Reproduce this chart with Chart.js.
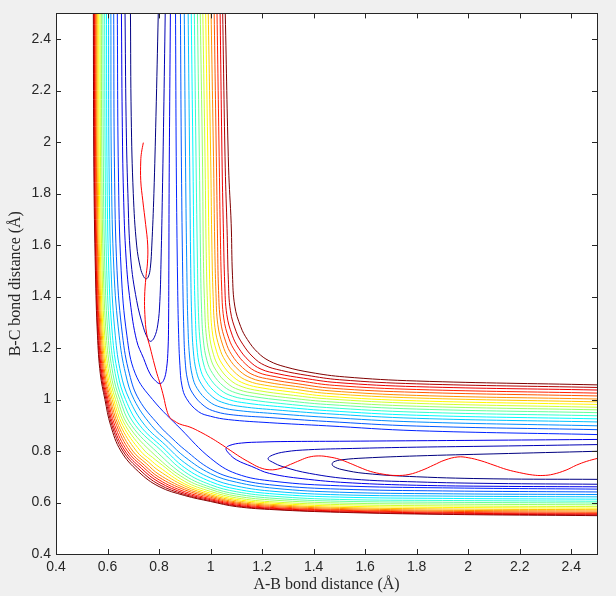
<!DOCTYPE html>
<html>
<head>
<meta charset="utf-8">
<title>A-B / B-C potential energy surface</title>
<script src="https://cdn.jsdelivr.net/npm/chart.js@4.4.1/dist/chart.umd.min.js"></script>
<style>
  html, body { margin: 0; padding: 0; background: #f0f0f0; }
  #wrap { width: 616px; height: 596px; }
</style>
</head>
<body>
<div id="wrap"><canvas id="pes" width="616" height="596"></canvas></div>
<script>
// axis ticks (same on both axes)
const tickValues = [0.4, 0.6, 0.8, 1.0, 1.2, 1.4, 1.6, 1.8, 2.0, 2.2, 2.4];
const tickLabels = ['0.4', '0.6', '0.8', '1', '1.2', '1.4', '1.6', '1.8', '2', '2.2', '2.4'];

// lowest three levels: loops in the entry valley (x = A-B, y = B-C)
const entryLoops = [
  [[0.689, 2.5], [0.692, 2.1], [0.700, 1.8], [0.713, 1.6], [0.728, 1.51], [0.740, 1.478], [0.749, 1.469],
   [0.758, 1.476], [0.766, 1.51], [0.772, 1.6], [0.780, 1.8], [0.788, 2.1], [0.797, 2.5]],
  [[0.668, 2.5], [0.672, 2.1], [0.679, 1.8], [0.690, 1.55], [0.713, 1.385], [0.739, 1.281], [0.755, 1.24],
   [0.766, 1.226], [0.781, 1.24], [0.795, 1.29], [0.803, 1.38], [0.808, 1.55], [0.813, 1.8], [0.818, 2.1], [0.824, 2.5]],
  [[0.654, 2.5], [0.657, 2.1], [0.662, 1.8], [0.672, 1.55], [0.688, 1.38], [0.713, 1.229], [0.740, 1.16],
   [0.765, 1.10], [0.789, 1.07], [0.804, 1.062], [0.818, 1.075], [0.829, 1.12], [0.835, 1.2], [0.837, 1.3],
   [0.838, 1.5], [0.839, 1.8], [0.841, 2.1], [0.844, 2.5]]
];

// the same three levels in the exit valley
const exitLoops = [
  [[2.5, 0.690], [2.1, 0.692], [1.8, 0.700], [1.6, 0.713], [1.51, 0.728], [1.478, 0.740], [1.472, 0.749],
   [1.478, 0.758], [1.51, 0.766], [1.6, 0.773], [1.8, 0.781], [2.1, 0.789], [2.5, 0.799]],
  [[2.5, 0.671], [2.1, 0.674], [1.8, 0.680], [1.55, 0.691], [1.385, 0.713], [1.281, 0.739], [1.24, 0.757],
   [1.223, 0.770], [1.24, 0.784], [1.29, 0.797], [1.38, 0.805], [1.55, 0.810], [1.8, 0.815], [2.1, 0.819], [2.5, 0.825]],
  [[2.5, 0.661], [2.1, 0.663], [1.8, 0.667], [1.55, 0.676], [1.38, 0.690], [1.229, 0.713], [1.16, 0.740],
   [1.10, 0.766], [1.07, 0.792], [1.06, 0.810], [1.075, 0.822], [1.12, 0.831], [1.2, 0.835], [1.3, 0.837],
   [1.5, 0.838], [1.8, 0.840], [2.1, 0.842], [2.5, 0.845]]
];

// levels 4..20, repulsive-wall branch: top edge down to the diagonal
const innerUpper = [
  [[0.638, 2.5], [0.642, 1.9], [0.653, 1.5], [0.675, 1.25], [0.708, 1.1], [0.775, 1.0], [0.885, 0.885]],
  [[0.624, 2.5], [0.627, 1.9], [0.637, 1.5], [0.658, 1.25], [0.685, 1.1], [0.722, 1.0], [0.800, 0.9], [0.850, 0.850]],
  [[0.613, 2.5], [0.615, 1.9], [0.625, 1.5], [0.645, 1.25], [0.670, 1.1], [0.703, 1.0], [0.770, 0.9], [0.836, 0.836]],
  [[0.604, 2.5], [0.606, 1.9], [0.614, 1.5], [0.630, 1.25], [0.652, 1.1], [0.685, 1.0], [0.745, 0.9], [0.824, 0.824]],
  [[0.596, 2.5], [0.598, 1.9], [0.605, 1.5], [0.619, 1.25], [0.640, 1.1], [0.670, 1.0], [0.725, 0.9], [0.814, 0.814]],
  [[0.589, 2.5], [0.591, 1.9], [0.597, 1.5], [0.610, 1.25], [0.630, 1.1], [0.658, 1.0], [0.708, 0.9], [0.805, 0.805]],
  [[0.582, 2.5], [0.584, 1.9], [0.590, 1.5], [0.602, 1.25], [0.621, 1.1], [0.648, 1.0], [0.693, 0.9], [0.794, 0.794]],
  [[0.576, 2.5], [0.578, 1.9], [0.584, 1.5], [0.595, 1.25], [0.613, 1.1], [0.639, 1.0], [0.680, 0.9], [0.784, 0.784]],
  [[0.571, 2.5], [0.573, 1.9], [0.579, 1.5], [0.589, 1.25], [0.606, 1.1], [0.631, 1.0], [0.669, 0.9], [0.745, 0.8], [0.775, 0.775]],
  [[0.566, 2.5], [0.568, 1.9], [0.574, 1.5], [0.584, 1.25], [0.600, 1.1], [0.624, 1.0], [0.659, 0.9], [0.728, 0.8], [0.766, 0.766]],
  [[0.562, 2.5], [0.564, 1.9], [0.570, 1.5], [0.580, 1.25], [0.595, 1.1], [0.618, 1.0], [0.650, 0.9], [0.712, 0.8], [0.758, 0.758]],
  [[0.558, 2.5], [0.560, 1.9], [0.566, 1.5], [0.576, 1.25], [0.590, 1.1], [0.612, 1.0], [0.642, 0.9], [0.698, 0.8], [0.751, 0.751]],
  [[0.555, 2.5], [0.557, 1.9], [0.563, 1.5], [0.572, 1.25], [0.586, 1.1], [0.607, 1.0], [0.635, 0.9], [0.687, 0.8], [0.744, 0.744]],
  [[0.552, 2.5], [0.554, 1.9], [0.560, 1.5], [0.569, 1.25], [0.582, 1.1], [0.602, 1.0], [0.628, 0.9], [0.677, 0.8], [0.738, 0.738]],
  [[0.549, 2.5], [0.551, 1.9], [0.557, 1.5], [0.566, 1.25], [0.578, 1.1], [0.598, 1.0], [0.622, 0.9], [0.668, 0.8], [0.732, 0.732]],
  [[0.547, 2.5], [0.549, 1.9], [0.555, 1.5], [0.563, 1.25], [0.575, 1.1], [0.594, 1.0], [0.617, 0.9], [0.660, 0.8], [0.726, 0.726]],
  [[0.545, 2.5], [0.547, 1.9], [0.553, 1.5], [0.561, 1.25], [0.572, 1.1], [0.590, 1.0], [0.612, 0.9], [0.652, 0.8], [0.720, 0.720]]
];

// levels 4..20, repulsive-wall branch: diagonal out to the right edge
const innerLower = [
  [[0.885, 0.885], [1.0, 0.772], [1.1, 0.712], [1.25, 0.682], [1.5, 0.665], [1.9, 0.657], [2.5, 0.652]],
  [[0.850, 0.850], [0.9, 0.805], [1.0, 0.730], [1.1, 0.692], [1.25, 0.667], [1.5, 0.652], [1.9, 0.645], [2.5, 0.641]],
  [[0.836, 0.836], [0.9, 0.777], [1.0, 0.712], [1.1, 0.679], [1.25, 0.655], [1.5, 0.640], [1.9, 0.634], [2.5, 0.631]],
  [[0.824, 0.824], [0.9, 0.754], [1.0, 0.695], [1.1, 0.664], [1.25, 0.643], [1.5, 0.630], [1.9, 0.625], [2.5, 0.622]],
  [[0.814, 0.814], [0.9, 0.735], [1.0, 0.681], [1.1, 0.652], [1.25, 0.633], [1.5, 0.621], [1.9, 0.616], [2.5, 0.613]],
  [[0.805, 0.805], [0.9, 0.719], [1.0, 0.669], [1.1, 0.642], [1.25, 0.624], [1.5, 0.612], [1.9, 0.608], [2.5, 0.605]],
  [[0.794, 0.794], [0.9, 0.705], [1.0, 0.659], [1.1, 0.633], [1.25, 0.616], [1.5, 0.605], [1.9, 0.601], [2.5, 0.598]],
  [[0.784, 0.784], [0.9, 0.693], [1.0, 0.651], [1.1, 0.625], [1.25, 0.609], [1.5, 0.598], [1.9, 0.594], [2.5, 0.591]],
  [[0.775, 0.775], [0.8, 0.755], [0.9, 0.682], [1.0, 0.643], [1.1, 0.618], [1.25, 0.602], [1.5, 0.592], [1.9, 0.587], [2.5, 0.584]],
  [[0.766, 0.766], [0.8, 0.738], [0.9, 0.672], [1.0, 0.636], [1.1, 0.612], [1.25, 0.597], [1.5, 0.586], [1.9, 0.581], [2.5, 0.578]],
  [[0.758, 0.758], [0.8, 0.723], [0.9, 0.664], [1.0, 0.630], [1.1, 0.607], [1.25, 0.592], [1.5, 0.581], [1.9, 0.575], [2.5, 0.572]],
  [[0.751, 0.751], [0.8, 0.709], [0.9, 0.656], [1.0, 0.625], [1.1, 0.602], [1.25, 0.588], [1.5, 0.577], [1.9, 0.570], [2.5, 0.567]],
  [[0.744, 0.744], [0.8, 0.698], [0.9, 0.649], [1.0, 0.620], [1.1, 0.598], [1.25, 0.584], [1.5, 0.573], [1.9, 0.566], [2.5, 0.562]],
  [[0.738, 0.738], [0.8, 0.688], [0.9, 0.642], [1.0, 0.615], [1.1, 0.594], [1.25, 0.580], [1.5, 0.570], [1.9, 0.562], [2.5, 0.558]],
  [[0.732, 0.732], [0.8, 0.679], [0.9, 0.636], [1.0, 0.611], [1.1, 0.590], [1.25, 0.577], [1.5, 0.567], [1.9, 0.559], [2.5, 0.555]],
  [[0.726, 0.726], [0.8, 0.670], [0.9, 0.631], [1.0, 0.607], [1.1, 0.587], [1.25, 0.574], [1.5, 0.564], [1.9, 0.556], [2.5, 0.552]],
  [[0.720, 0.720], [0.8, 0.662], [0.9, 0.627], [1.0, 0.604], [1.1, 0.584], [1.25, 0.572], [1.5, 0.562], [1.9, 0.554], [2.5, 0.549]]
];

// levels 4..20, far branch round the corner: top edge down to the diagonal
const outerUpper = [
  [[0.864, 2.5], [0.867, 1.9], [0.872, 1.453], [0.876, 1.253], [0.881, 1.133], [0.889, 1.053], [0.907, 1.003], [0.953, 0.953]],
  [[0.883, 2.5], [0.887, 1.9], [0.892, 1.475], [0.896, 1.275], [0.901, 1.155], [0.911, 1.075], [0.930, 1.025], [0.975, 0.975]],
  [[0.898, 2.5], [0.903, 1.9], [0.908, 1.493], [0.912, 1.293], [0.918, 1.173], [0.929, 1.093], [0.948, 1.043], [0.993, 0.993]],
  [[0.913, 2.5], [0.919, 1.9], [0.923, 1.509], [0.927, 1.309], [0.933, 1.189], [0.945, 1.109], [0.965, 1.059], [1.009, 1.009]],
  [[0.925, 2.5], [0.932, 1.9], [0.936, 1.524], [0.941, 1.324], [0.947, 1.204], [0.959, 1.124], [0.980, 1.074], [1.024, 1.024]],
  [[0.937, 2.5], [0.944, 1.9], [0.949, 1.538], [0.953, 1.338], [0.960, 1.218], [0.973, 1.138], [0.994, 1.088], [1.038, 1.038]],
  [[0.949, 2.5], [0.957, 1.9], [0.961, 1.551], [0.965, 1.351], [0.972, 1.231], [0.986, 1.151], [1.008, 1.101], [1.051, 1.051]],
  [[0.960, 2.5], [0.969, 1.9], [0.972, 1.564], [0.977, 1.364], [0.984, 1.244], [0.999, 1.164], [1.021, 1.114], [1.064, 1.064]],
  [[0.970, 2.5], [0.979, 1.9], [0.983, 1.576], [0.988, 1.376], [0.995, 1.256], [1.011, 1.176], [1.033, 1.126], [1.076, 1.076]],
  [[0.981, 2.5], [0.990, 1.9], [0.994, 1.588], [0.999, 1.388], [1.006, 1.268], [1.023, 1.188], [1.045, 1.138], [1.088, 1.088]],
  [[0.991, 2.5], [1.001, 1.9], [1.005, 1.600], [1.010, 1.400], [1.017, 1.280], [1.035, 1.200], [1.058, 1.150], [1.100, 1.100]],
  [[1.002, 2.5], [1.012, 1.9], [1.016, 1.612], [1.021, 1.412], [1.028, 1.292], [1.047, 1.212], [1.070, 1.162], [1.112, 1.112]],
  [[1.014, 2.5], [1.023, 1.9], [1.027, 1.624], [1.031, 1.424], [1.039, 1.304], [1.059, 1.224], [1.082, 1.174], [1.124, 1.124]],
  [[1.025, 2.5], [1.034, 1.9], [1.038, 1.637], [1.043, 1.437], [1.051, 1.317], [1.071, 1.237], [1.096, 1.187], [1.137, 1.137]],
  [[1.037, 2.5], [1.045, 1.9], [1.050, 1.650], [1.055, 1.450], [1.063, 1.330], [1.084, 1.250], [1.109, 1.200], [1.150, 1.150]],
  [[1.047, 2.5], [1.057, 1.9], [1.064, 1.665], [1.069, 1.465], [1.077, 1.345], [1.099, 1.265], [1.125, 1.215], [1.165, 1.165]],
  [[1.057, 2.5], [1.070, 1.9], [1.080, 1.683], [1.085, 1.483], [1.094, 1.363], [1.117, 1.283], [1.143, 1.233], [1.183, 1.183]]
];

// levels 4..20, far branch: diagonal out to the right edge
const outerLower = [
  [[0.953, 0.953], [1.0, 0.935], [1.07, 0.922], [1.23, 0.910], [1.45, 0.898], [1.8, 0.879], [2.5, 0.864]],
  [[0.975, 0.975], [1.02, 0.953], [1.09, 0.940], [1.23, 0.930], [1.45, 0.915], [1.8, 0.897], [2.5, 0.883]],
  [[0.993, 0.993], [1.04, 0.970], [1.11, 0.957], [1.24, 0.946], [1.45, 0.931], [1.8, 0.913], [2.5, 0.898]],
  [[1.009, 1.009], [1.055, 0.986], [1.125, 0.972], [1.25, 0.960], [1.45, 0.945], [1.8, 0.927], [2.5, 0.913]],
  [[1.024, 1.024], [1.07, 1.000], [1.14, 0.986], [1.26, 0.973], [1.45, 0.957], [1.8, 0.939], [2.5, 0.925]],
  [[1.038, 1.038], [1.085, 1.013], [1.155, 0.999], [1.27, 0.985], [1.45, 0.969], [1.8, 0.951], [2.5, 0.937]],
  [[1.051, 1.051], [1.098, 1.026], [1.17, 1.011], [1.28, 0.997], [1.45, 0.981], [1.8, 0.963], [2.5, 0.949]],
  [[1.064, 1.064], [1.11, 1.038], [1.18, 1.023], [1.29, 1.008], [1.45, 0.992], [1.8, 0.974], [2.5, 0.960]],
  [[1.076, 1.076], [1.122, 1.050], [1.19, 1.034], [1.30, 1.019], [1.45, 1.003], [1.8, 0.985], [2.5, 0.970]],
  [[1.088, 1.088], [1.134, 1.061], [1.20, 1.045], [1.31, 1.030], [1.45, 1.013], [1.8, 0.995], [2.5, 0.981]],
  [[1.100, 1.100], [1.146, 1.072], [1.21, 1.056], [1.32, 1.041], [1.45, 1.024], [1.8, 1.006], [2.5, 0.991]],
  [[1.112, 1.112], [1.158, 1.083], [1.22, 1.067], [1.33, 1.051], [1.46, 1.034], [1.8, 1.016], [2.5, 1.002]],
  [[1.124, 1.124], [1.17, 1.094], [1.235, 1.078], [1.34, 1.061], [1.47, 1.044], [1.8, 1.028], [2.5, 1.014]],
  [[1.137, 1.137], [1.183, 1.106], [1.25, 1.089], [1.35, 1.072], [1.48, 1.055], [1.8, 1.039], [2.5, 1.025]],
  [[1.150, 1.150], [1.196, 1.118], [1.262, 1.100], [1.36, 1.083], [1.49, 1.066], [1.8, 1.050], [2.5, 1.037]],
  [[1.165, 1.165], [1.21, 1.133], [1.275, 1.113], [1.375, 1.094], [1.5, 1.077], [1.8, 1.061], [2.5, 1.047]],
  [[1.183, 1.183], [1.228, 1.150], [1.29, 1.127], [1.39, 1.105], [1.52, 1.088], [1.8, 1.072], [2.5, 1.057]]
];

// reactive trajectory
const trajectory = [
  [0.739, 1.998], [0.732, 1.96], [0.729, 1.927], [0.729, 1.85], [0.737, 1.772], [0.748, 1.68], [0.756, 1.60],
  [0.755, 1.53], [0.749, 1.475], [0.744, 1.40], [0.745, 1.33], [0.752, 1.255], [0.766, 1.20], [0.778, 1.152],
  [0.792, 1.10], [0.804, 1.062], [0.818, 1.01], [0.830, 0.958], [0.842, 0.93], [0.856, 0.919], [0.88, 0.905],
  [0.92, 0.893], [0.96, 0.874], [1.00, 0.852], [1.037, 0.829], [1.076, 0.803], [1.115, 0.777], [1.153, 0.755],
  [1.19, 0.736], [1.23, 0.727], [1.27, 0.732], [1.31, 0.748], [1.348, 0.764], [1.38, 0.776], [1.42, 0.781],
  [1.46, 0.777], [1.50, 0.768], [1.542, 0.752], [1.58, 0.736], [1.62, 0.721], [1.67, 0.710], [1.72, 0.705],
  [1.77, 0.709], [1.82, 0.725], [1.865, 0.745], [1.91, 0.765], [1.96, 0.777], [2.00, 0.774], [2.05, 0.762],
  [2.10, 0.745], [2.15, 0.728], [2.20, 0.716], [2.25, 0.707], [2.29, 0.705], [2.33, 0.710], [2.38, 0.726],
  [2.42, 0.745], [2.46, 0.760], [2.5, 0.771]
];

const nLevels = 20;

// MATLAB jet colormap
function jet(v) {
  const c = t => Math.round(255 * Math.max(0, Math.min(1, 1.5 - Math.abs(4 * v - t))));
  return 'rgb(' + c(3) + ',' + c(2) + ',' + c(1) + ')';
}
function levelColor(level) { return jet((level - 1) / (nLevels - 1)); }

const toXY = pts => pts.map(p => ({ x: p[0], y: p[1] }));
// upper half ends on the diagonal point the lower half starts with
const join = (upper, lower) => upper.concat(lower.slice(1));

function line(pts, color) {
  return {
    data: toXY(pts),
    borderColor: color,
    borderWidth: 1,
    showLine: true,
    pointRadius: 0,
    pointHoverRadius: 0,
    tension: 0.4,
    fill: false
  };
}

const datasets = [line(trajectory, '#ff0000')];
entryLoops.forEach((loop, k) => datasets.push(line(loop, levelColor(k + 1))));
exitLoops.forEach((loop, k) => datasets.push(line(loop, levelColor(k + 1))));
innerUpper.forEach((half, k) => datasets.push(line(join(half, innerLower[k]), levelColor(k + 4))));
outerUpper.forEach((half, k) => datasets.push(line(join(half, outerLower[k]), levelColor(k + 4))));

const axisColor = '#262626';

// white axes background, box and inward tick marks like MATLAB
const matlabFrame = {
  id: 'matlabFrame',
  beforeDatasetsDraw(chart) {
    const { ctx, chartArea: a } = chart;
    ctx.save();
    ctx.fillStyle = '#ffffff';
    ctx.fillRect(a.left, a.top, a.right - a.left, a.bottom - a.top);
    ctx.restore();
  },
  afterDraw(chart) {
    const { ctx, chartArea: a, scales } = chart;
    const len = 5;
    ctx.save();
    ctx.strokeStyle = axisColor;
    ctx.lineWidth = 1;
    ctx.beginPath();
    tickValues.forEach(v => {
      const px = Math.round(scales.x.getPixelForValue(v)) + 0.5;
      ctx.moveTo(px, a.bottom); ctx.lineTo(px, a.bottom - len);
      ctx.moveTo(px, a.top); ctx.lineTo(px, a.top + len);
      const py = Math.round(scales.y.getPixelForValue(v)) + 0.5;
      ctx.moveTo(a.left, py); ctx.lineTo(a.left + len, py);
      ctx.moveTo(a.right, py); ctx.lineTo(a.right - len, py);
    });
    ctx.stroke();
    ctx.strokeRect(Math.round(a.left) + 0.5, Math.round(a.top) + 0.5,
      Math.round(a.right - a.left), Math.round(a.bottom - a.top));
    ctx.restore();
  }
};

const tickFont = { family: '"Liberation Sans", Arial, sans-serif', size: 14 };
const titleFont = { family: '"Liberation Serif", "Times New Roman", serif', size: 16 };

function axis(titleText, isX) {
  return {
    type: 'linear',
    min: 0.4,
    max: 2.5,
    afterBuildTicks: s => { s.ticks = tickValues.map(v => ({ value: v })); },
    afterFit: s => { if (isX) s.height = 42; else s.width = 56; },
    grid: { display: false, drawTicks: false },
    border: { display: false },
    ticks: {
      autoSkip: false,
      maxRotation: 0,
      padding: isX ? 5 : 5,
      color: axisColor,
      font: tickFont,
      callback: v => tickLabels[tickValues.indexOf(v)]
    },
    title: {
      display: true,
      text: titleText,
      color: axisColor,
      font: titleFont,
      padding: isX ? { top: 0, bottom: 2 } : { top: 6, bottom: 0 }
    }
  };
}

new Chart(document.getElementById('pes'), {
  type: 'scatter',
  data: { datasets: datasets },
  options: {
    responsive: false,
    animation: false,
    events: [],
    layout: { padding: { left: 0, right: 19, top: 12, bottom: 0 } },
    plugins: {
      legend: { display: false },
      tooltip: { enabled: false },
      title: { display: false }
    },
    scales: {
      x: axis('A-B bond distance (Å)', true),
      y: axis('B-C bond distance (Å)', false)
    }
  },
  plugins: [matlabFrame]
});
</script>
</body>
</html>
